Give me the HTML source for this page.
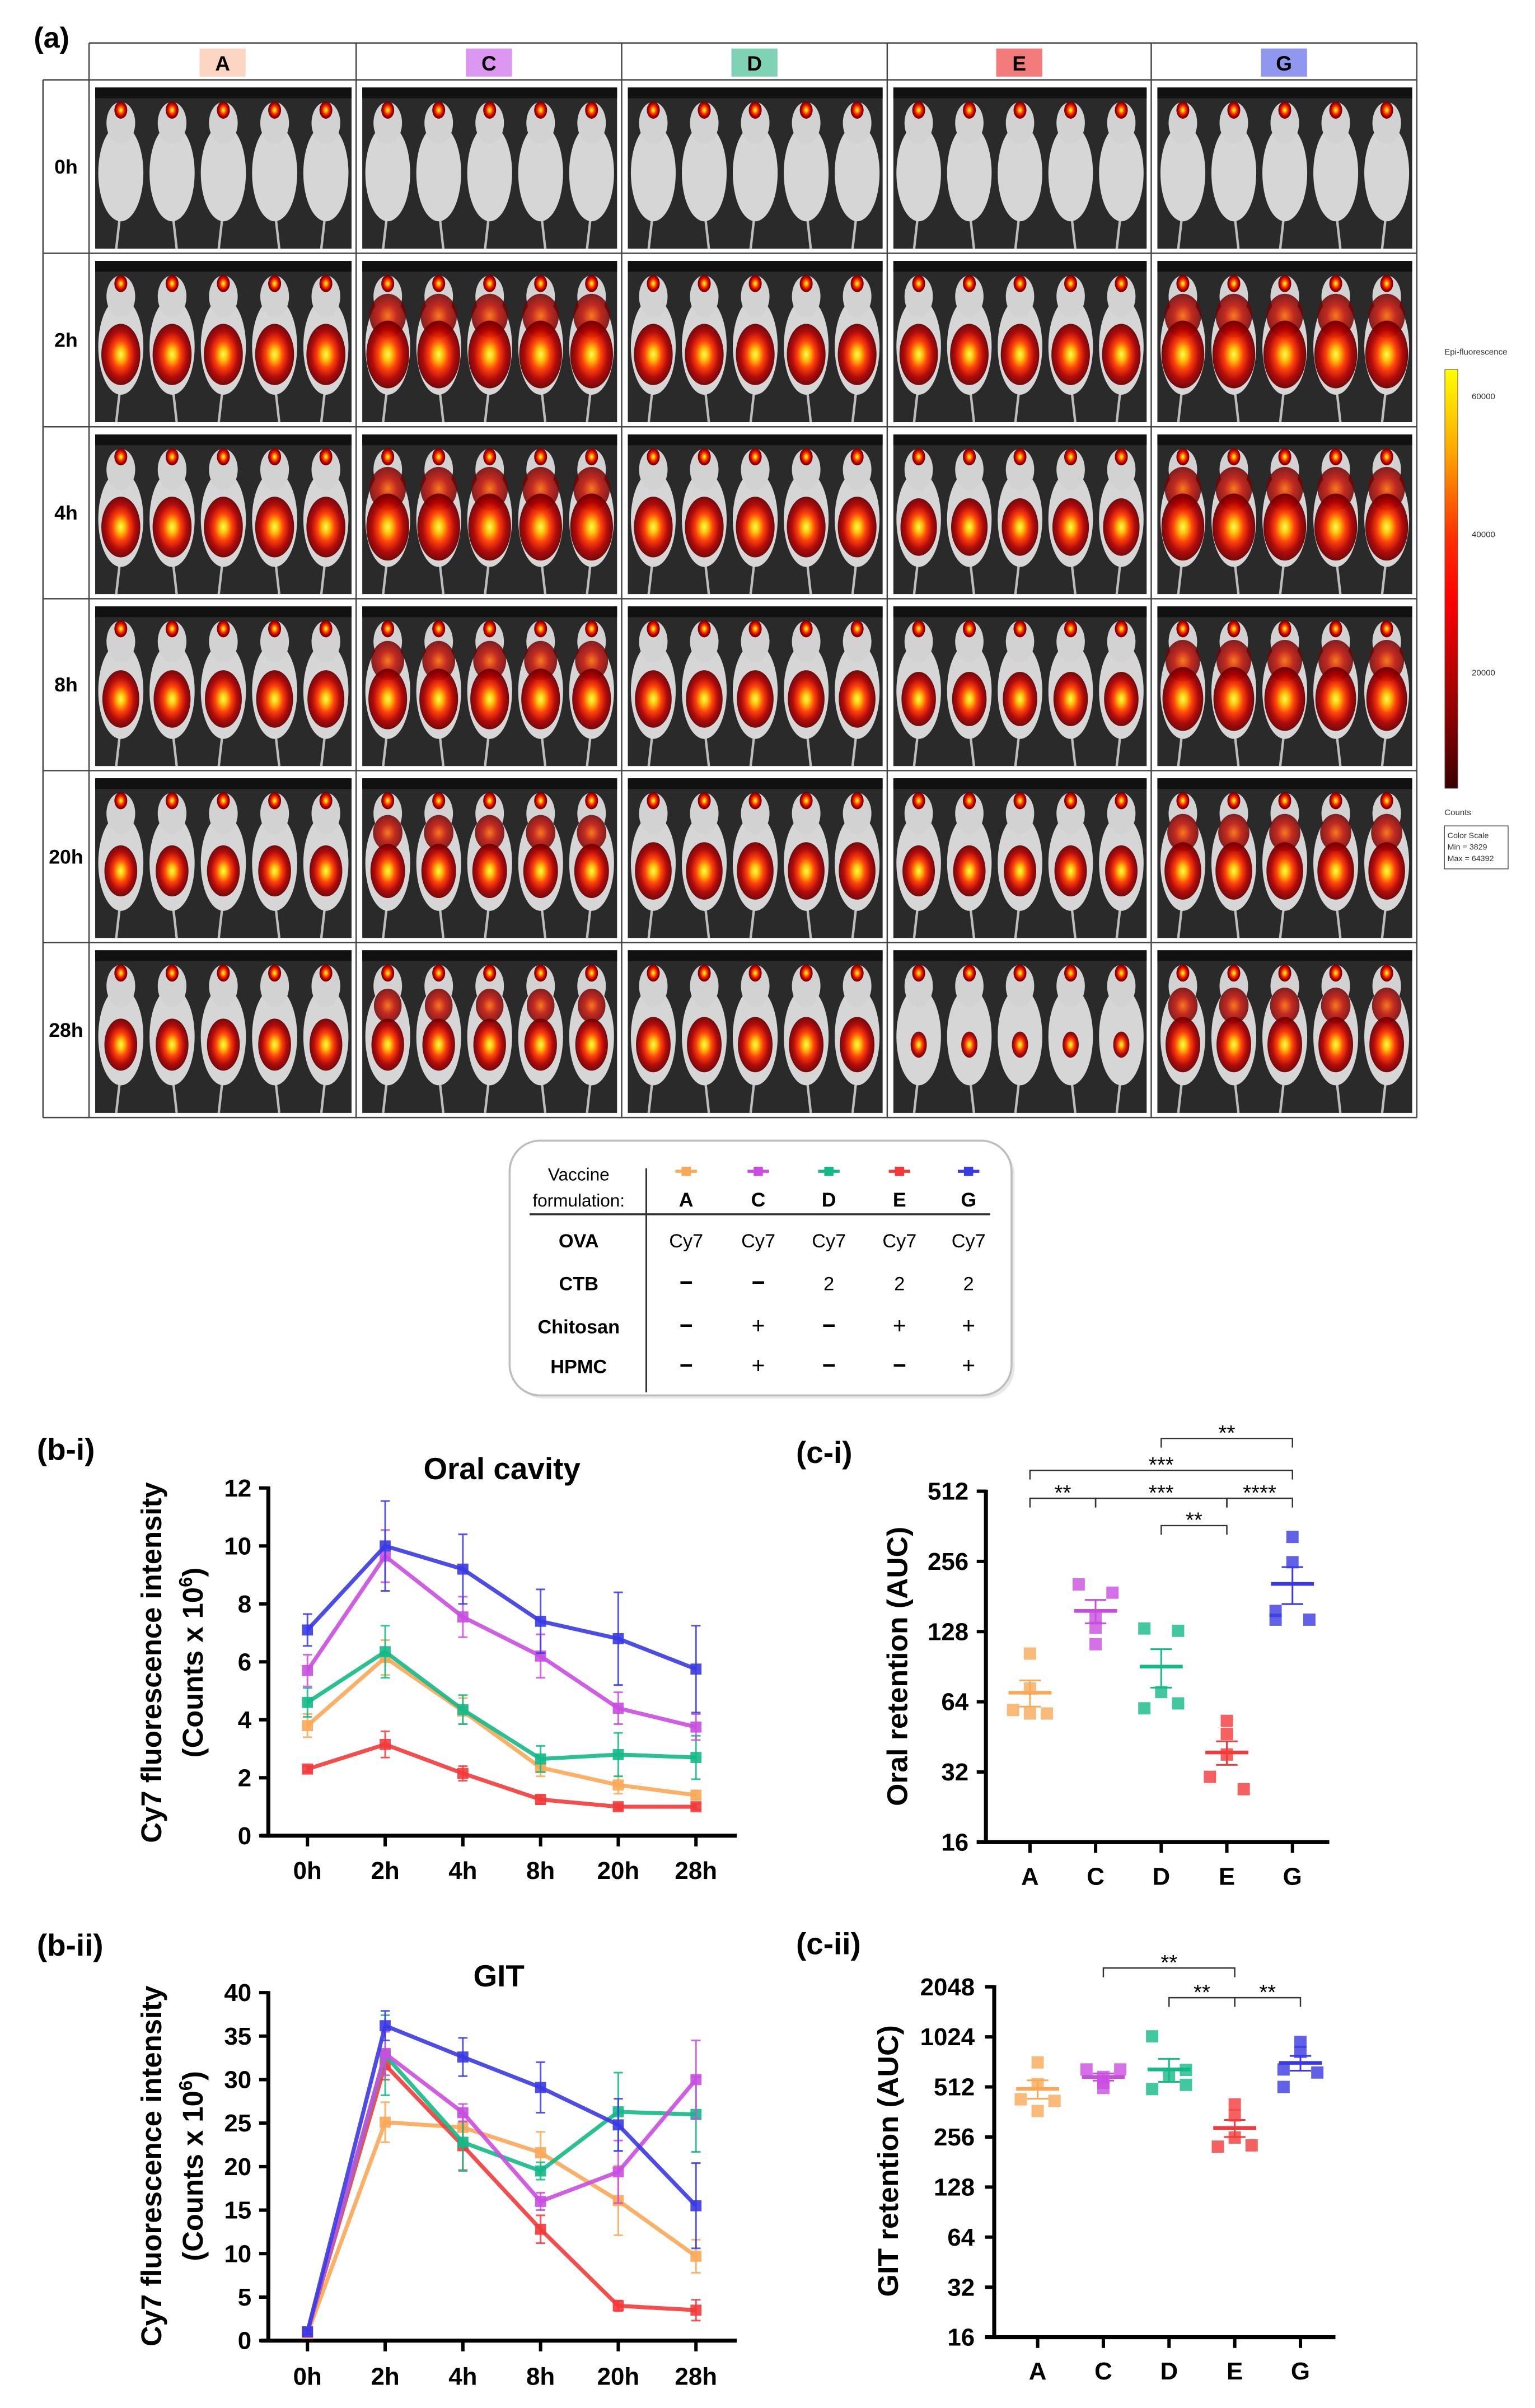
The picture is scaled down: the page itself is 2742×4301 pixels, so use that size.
<!DOCTYPE html>
<html><head><meta charset="utf-8">
<style>
html,body{margin:0;padding:0;background:#fff;}
svg{display:block;font-family:"Liberation Sans",sans-serif;}
</style></head>
<body>
<svg id="fig" xmlns="http://www.w3.org/2000/svg" width="2742" height="4301" viewBox="0 0 1000 1568.6">
<defs>
<radialGradient id="hot" cx="50%" cy="50%" r="50%">
<stop offset="0%" stop-color="#ffff50"/><stop offset="20%" stop-color="#ffc000"/><stop offset="45%" stop-color="#ff3a00"/><stop offset="75%" stop-color="#b00000"/><stop offset="100%" stop-color="#6a0000"/>
</radialGradient>
<radialGradient id="warm" cx="50%" cy="50%" r="50%">
<stop offset="0%" stop-color="#ff6a00"/><stop offset="50%" stop-color="#c00c00"/><stop offset="100%" stop-color="#700000"/>
</radialGradient>
<linearGradient id="cbar" x1="0" y1="0" x2="0" y2="1">
<stop offset="0%" stop-color="#ffff00"/><stop offset="20%" stop-color="#ffa500"/><stop offset="40%" stop-color="#ff3000"/><stop offset="55%" stop-color="#ff0000"/><stop offset="80%" stop-color="#990000"/><stop offset="100%" stop-color="#3a0000"/>
</linearGradient>
</defs>
<text x="22" y="31" font-size="19" font-weight="bold">(a)</text>
<g id="grid"></g>
<g id="colorbar">
<text x="941" y="231" font-size="5.5" fill="#333">Epi-fluorescence</text>
<rect x="941.3" y="240.7" width="8.4" height="272.8" fill="url(#cbar)" stroke="#555" stroke-width="0.4"/>
<text x="958.8" y="260" font-size="5.5" fill="#333">60000</text>
<text x="958.8" y="350" font-size="5.5" fill="#333">40000</text>
<text x="958.8" y="440" font-size="5.5" fill="#333">20000</text>
<text x="941" y="531" font-size="5.5" fill="#333">Counts</text>
<rect x="941" y="538" width="41.5" height="28" fill="#fff" stroke="#444" stroke-width="0.5"/>
<text x="943" y="546" font-size="5.2" fill="#333">Color Scale</text>
<text x="943" y="553.5" font-size="5.2" fill="#333">Min = 3829</text>
<text x="943" y="561" font-size="5.2" fill="#333">Max = 64392</text>
</g>
<g id="legendTable">
<rect x="334" y="745" width="327" height="166" rx="20" fill="#e8e8e8"/>
<rect x="332" y="743" width="327" height="166" rx="20" fill="#fff" stroke="#bdbdbd" stroke-width="1.3"/>
<line x1="421" y1="761" x2="421" y2="907" stroke="#222" stroke-width="1"/>
<line x1="345" y1="791" x2="645" y2="791" stroke="#333" stroke-width="1.3"/>
<text x="377" y="769" font-size="11.5" text-anchor="middle">Vaccine</text>
<text x="377" y="786" font-size="11.5" text-anchor="middle">formulation:</text>
</g>
<g id="charts"></g>
</svg>
<script>
// ---------- Chart data ----------
const groups = ["A","C","D","E","G"];
const groupColors = ["#f9a957","#c94ee0","#14b988","#f23a3a","#3a3ae2"];
const timeLabels = ["0h","2h","4h","8h","20h","28h"];
// Oral cavity (Counts x 10^6)
const oralA = [3.8,6.15,4.3,2.35,1.75,1.4];
const oralC = [5.7,9.65,7.55,6.2,4.4,3.75];
const oralD = [4.6,6.35,4.35,2.65,2.8,2.7];
const oralE = [2.3,3.15,2.15,1.25,1.0,1.0];
const oralG = [7.1,10.0,9.2,7.4,6.8,5.75];
const oralErrA = [0.4,0.6,0.45,0.3,0.3,0.15];
const oralErrC = [0.55,0.9,0.7,0.75,0.55,0.45];
const oralErrD = [0.5,0.9,0.5,0.45,0.75,0.75];
const oralErrE = [0.1,0.45,0.25,0.15,0.1,0.1];
const oralErrG = [0.55,1.55,1.2,1.1,1.6,1.5];
const oralTicks = [0,2,4,6,8,10,12];
// GIT
const gitA = [0.8,25.1,24.5,21.6,16.1,9.7];
const gitC = [1.0,33.0,26.2,16.0,19.4,30.0];
const gitD = [1.0,32.8,22.8,19.5,26.3,26.0];
const gitE = [1.0,31.7,22.4,12.8,4.0,3.5];
const gitG = [1.0,36.2,32.6,29.1,24.8,15.5];
const gitErrA = [0.2,2.3,1.3,2.4,4.0,1.9];
const gitErrC = [0.4,2.5,1.0,1.0,3.6,4.5];
const gitErrD = [0.3,4.6,3.3,1.0,4.5,4.3];
const gitErrE = [0.3,1.7,2.8,1.6,0.6,1.2];
const gitErrG = [0.3,1.7,2.2,2.9,3.0,4.9];
const gitTicks = [0,5,10,15,20,25,30,35,40];
// Oral retention AUC (individual animals)
const oralAucA = [103,73,59,57,57];
const oralAucC = [204,188,146,133,113];
const oralAucD = [132,129,70.5,63,60];
const oralAucE = [53,46.6,38,30.5,27];
const oralAucG = [326,254,157,144,144];
const oralAucMean = [70,157,90.6,38.8,205];
const oralAucSem = [9,18,17,4.5,37];
const oralAucTicks = [16,32,64,128,256,512];
// GIT retention AUC
const gitAucA = [719,532,431,422,367];
const gitAucC = [652,652,588,541,505];
const gitAucD = [1031,648,605,527,497];
const gitAucE = [402,345,254,224,228];
const gitAucG = [955,832,652,625,512];
const gitAucMean = [498,588,652,290,714];
const gitAucSem = [63,29,103,34,73];
const gitAucTicks = [16,32,64,128,256,512,1024,2048];
// significance comparisons
const oralSigFrom = [2,0,0,1,3,2];
const oralSigTo   = [4,4,1,3,4,3];
const oralSigText = ["**","***","**","***","****","**"];
const oralSigLevel= [0,1,2,2,2,3];
const gitSigFrom = [1,2,3];
const gitSigTo   = [3,3,4];
const gitSigText = ["**","**","**"];
const gitSigLevel= [0,1,1];

const NS="http://www.w3.org/2000/svg";
function mk(tag, attrs, parent){
  const e=document.createElementNS(NS,tag);
  for(const k in attrs) e.setAttribute(k,attrs[k]);
  if(parent) parent.appendChild(e);
  return e;
}
const root=document.getElementById('charts');
const B="bold";

// ---------- Panel (a) imaging grid ----------
(function(){
  const g=document.getElementById('grid');
  const colX=[58,232,405,578,750,923], rowY=[52,165,278,390,502,614,728];
  const rows=["0h","2h","4h","8h","20h","28h"];
  const hdrFill=["#fcd6c2","#dc97f0","#80d2b4","#f37b7b","#8f97ee"];
  const intensity=[[0,0,0,0,0],[0.95,1.05,0.95,0.95,1.05],[0.95,1.05,0.95,0.9,1.05],[0.9,0.95,0.9,0.85,1.0],[0.8,0.85,0.9,0.8,0.9],[0.8,0.8,0.85,0.4,0.85]];
  for(let r=0;r<6;r++){
    for(let c=0;c<5;c++){
      const x0=colX[c]+4,y0=rowY[r]+5,w=colX[c+1]-colX[c]-7,h=rowY[r+1]-rowY[r]-8;
      const cell=mk('g',{},g);
      
      
      mk('rect',{x:x0,y:y0,width:w,height:h,fill:'#2a2a2a'},cell);
      mk('rect',{x:x0,y:y0,width:w,height:7,fill:'#111'},cell);
      for(let m=0;m<5;m++){
        const cx=x0+w*(m+0.5)/5, mw=w/5;
        mk('line',{x1:cx,y1:y0+h*0.75,x2:cx+(m%2?3:-3),y2:y0+h,stroke:'#bdbdbd','stroke-width':1.6},cell);
        mk('ellipse',{cx:cx,cy:y0+h*0.53,rx:mw*0.44,ry:h*0.3,fill:'#d6d6d6'},cell);
        mk('ellipse',{cx:cx,cy:y0+h*0.22,rx:mw*0.28,ry:h*0.13,fill:'#d2d2d2'},cell);
        mk('ellipse',{cx:cx,cy:y0+h*0.14,rx:4.2,ry:5.6,fill:'url(#hot)'},cell);
        const k=intensity[r][c];
        if(k>0){
          if(c===1||c===4){
            mk('ellipse',{cx:cx,cy:y0+h*0.34,rx:mw*0.34*k,ry:h*0.13*k,fill:'url(#warm)',opacity:0.85},cell);
          }
          mk('ellipse',{cx:cx,cy:y0+h*0.58,rx:mw*0.4*k,ry:h*0.2*k,fill:'url(#hot)',opacity:0.95},cell);
        }
      }
    }
  }
  const ln=(x1,y1,x2,y2)=>mk('line',{x1,y1,x2,y2,stroke:'#444','stroke-width':0.9},g);
  ln(58,28,923,28);
  for(const x of colX) ln(x,28,x,728);
  ln(28,52,28,728);
  for(const y of rowY) ln(28,y,923,y);
  for(let c=0;c<5;c++){
    const cx=(colX[c]+colX[c+1])/2;
    const hb=mk('rect',{x:cx-15,y:31.6,width:30,height:18.3,fill:hdrFill[c]},g);
    
    
    const ht=mk('text',{x:cx,y:46,'font-size':13.5,'font-weight':B,'text-anchor':'middle'},g);
    ht.textContent=groups[c];
    
    
  }
  for(let r=0;r<6;r++){
    const t=mk('text',{x:43,y:(rowY[r]+rowY[r+1])/2+4.5,'font-size':13,'font-weight':B,'text-anchor':'middle'},g);
    t.textContent=rows[r];
    
    
  }
})();

// ---------- Formulation table ----------
(function(){
  const g=document.getElementById('legendTable');
  const colCx=[447,494,540,586,631];
  const rowLabels=["OVA","CTB","Chitosan","HPMC"];
  const rowYs=[812.5,840.5,868.5,894.5];
  const cells=[["Cy7","Cy7","Cy7","Cy7","Cy7"],["−","−","2","2","2"],["−","+","−","+","+"],["−","+","−","−","+"]];
  for(let i=0;i<5;i++){
    const lg=mk('g',{},g);
    
    
    mk('line',{x1:colCx[i]-7,y1:763,x2:colCx[i]+7,y2:763,stroke:groupColors[i],'stroke-width':2},lg);
    mk('rect',{x:colCx[i]-3,y:760,width:6,height:6,fill:groupColors[i]},lg);
    const t=mk('text',{x:colCx[i],y:786,'font-size':13,'font-weight':B,'text-anchor':'middle'},lg);
    t.textContent=groups[i];
  }
  for(let r=0;r<4;r++){
    const t=mk('text',{x:377,y:rowYs[r],'font-size':12.5,'font-weight':B,'text-anchor':'middle'},g);
    t.textContent=rowLabels[r];
    
    
    for(let c=0;c<5;c++){
      const v=cells[r][c];
      const tt=mk('text',{x:colCx[c],y:rowYs[r],'font-size':v==="Cy7"?12.5:(v==="2"?12.5:15),'font-weight':v==="−"?B:'normal','text-anchor':'middle'},g);
      tt.textContent=v;
    }
  }
})();

// ---------- Line charts ----------
function lineChart(o){
  const g=mk('g',{},root);
  
  
  const xPos=i=>o.x0+i*o.dx;
  const yPos=v=>o.yBase-v*o.perUnit;
  const pl=mk('text',{x:24,y:o.panelY+7,'font-size':20,'font-weight':B},g);
  pl.textContent=o.panel;
  
  
  const tt=mk('text',{x:o.titleX,y:o.titleY+7,'font-size':20,'font-weight':B,'text-anchor':'middle'},g);
  tt.textContent=o.title;
  
  
  const yt=mk('g',{transform:'translate(0,'+o.ytY+') rotate(-90)'},g);
  
  
  mk('text',{x:0,y:o.ytX1+6,'font-size':18.5,'font-weight':B,'text-anchor':'middle',textLength:235,lengthAdjust:'spacingAndGlyphs'},yt).textContent="Cy7 fluorescence intensity";
  const t2=mk('text',{x:0,y:o.ytX2+6,'font-size':18.5,'font-weight':B,'text-anchor':'middle'},yt);
  t2.appendChild(document.createTextNode("(Counts x 10"));
  const sup=mk('tspan',{dy:-7,'font-size':12},t2); sup.textContent="6";
  const cl=mk('tspan',{dy:7},t2); cl.textContent=")";
  const topV=o.ticks[o.ticks.length-1];
  const ya=mk('line',{x1:o.ax,y1:yPos(0)+1.2,x2:o.ax,y2:yPos(topV)-1,stroke:'#000','stroke-width':2.6},g);
  
  
  const xa=mk('line',{x1:o.ax-5,y1:yPos(0),x2:o.axEnd,y2:yPos(0),stroke:'#000','stroke-width':2.6},g);
  
  
  for(const v of o.ticks){
    mk('line',{x1:o.ax-6,y1:yPos(v),x2:o.ax,y2:yPos(v),stroke:'#000','stroke-width':2.2},g);
    const tl=mk('text',{x:o.ax-11,y:yPos(v)+5.5,'font-size':16,'font-weight':B,'text-anchor':'end'},g);
    tl.textContent=v;
    
    
  }
  timeLabels.forEach((lab,i)=>{
    mk('line',{x1:xPos(i),y1:yPos(0),x2:xPos(i),y2:yPos(0)+7,stroke:'#000','stroke-width':2.2},g);
    const tl=mk('text',{x:xPos(i),y:o.xlY+6,'font-size':16,'font-weight':B,'text-anchor':'middle'},g);
    tl.textContent=lab;
    
    
  });
  const order=[0,3,2,1,4];
  for(const si of order){
    const vals=o.series[si], errs=o.errs[si], col=groupColors[si];
    const sg=mk('g',{},g);
    
    
    vals.forEach((v,i)=>{
      const x=xPos(i);
      mk('line',{x1:x,y1:yPos(v-errs[i]),x2:x,y2:yPos(v+errs[i]),stroke:col,'stroke-width':1.1,opacity:0.85},sg);
      mk('line',{x1:x-3,y1:yPos(v-errs[i]),x2:x+3,y2:yPos(v-errs[i]),stroke:col,'stroke-width':1.1,opacity:0.85},sg);
      mk('line',{x1:x-3,y1:yPos(v+errs[i]),x2:x+3,y2:yPos(v+errs[i]),stroke:col,'stroke-width':1.1,opacity:0.85},sg);
    });
    const pts=vals.map((v,i)=>xPos(i)+','+yPos(v)).join(' ');
    const pl2=mk('polyline',{points:pts,fill:'none',stroke:col,'stroke-width':2.6,'stroke-linejoin':'round',opacity:0.9},sg);
    
    
    vals.forEach((v,i)=>{
      const p=mk('rect',{x:xPos(i)-3.6,y:yPos(v)-3.6,width:7.2,height:7.2,fill:col,opacity:0.9},sg);
      
      
    });
  }
}
lineChart({name:'oral-cavity-chart',panel:'(b-i)',panelY:944,title:'Oral cavity',titleX:327,titleY:956.5,
  ytY:1083,ytX1:99,ytX2:126,ax:174.8,axEnd:480,x0:200.3,dx:50.62,yBase:1195.8,perUnit:18.875,xlY:1218,
  ticks:oralTicks,series:[oralA,oralC,oralD,oralE,oralG],errs:[oralErrA,oralErrC,oralErrD,oralErrE,oralErrG]});
lineChart({name:'git-chart',panel:'(b-ii)',panelY:1267,title:'GIT',titleX:325,titleY:1287,
  ytY:1411,ytX1:99,ytX2:126,ax:174.8,axEnd:480,x0:200.3,dx:50.62,yBase:1524.7,perUnit:5.667,xlY:1547.5,
  ticks:gitTicks,series:[gitA,gitC,gitD,gitE,gitG],errs:[gitErrA,gitErrC,gitErrD,gitErrE,gitErrG]});

// ---------- Scatter (AUC) charts ----------
const jitter=[[0,0,-1,1,0],[-1,1,0,0,0],[-1,1,0,1,-1],[0,0,0,-1,1],[0,0,-1,1,-1]];
function aucChart(o){
  const g=mk('g',{},root);
  
  
  const xPos=i=>o.x0+i*o.dx;
  const yPos=v=>o.y16-(Math.log2(v)-4)*o.perUnit;
  const pl=mk('text',{x:518.6,y:o.panelY+7,'font-size':20,'font-weight':B},g);
  pl.textContent=o.panel;
  
  
  const yt=mk('text',{x:0,y:0,'font-size':18.5,'font-weight':'bold','text-anchor':'middle',textLength:o.ytLen,lengthAdjust:'spacingAndGlyphs',transform:'translate('+(o.ytX+6)+','+o.ytY+') rotate(-90)'},g);
  yt.textContent=o.ytitle;
  
  
  const topV=o.ticks[o.ticks.length-1];
  const ya=mk('line',{x1:o.ax,y1:yPos(16)+1.2,x2:o.ax,y2:yPos(topV)-1,stroke:'#000','stroke-width':2.6},g);
  
  
  const xa=mk('line',{x1:o.ax-6,y1:yPos(16),x2:o.axEnd,y2:yPos(16),stroke:'#000','stroke-width':2.6},g);
  
  
  for(const v of o.ticks){
    mk('line',{x1:o.ax-6,y1:yPos(v),x2:o.ax,y2:yPos(v),stroke:'#000','stroke-width':2.2},g);
    const tl=mk('text',{x:o.tlx,y:yPos(v)+5.5,'font-size':16,'font-weight':B,'text-anchor':'end'},g);
    tl.textContent=v;
    
    
  }
  groups.forEach((lab,i)=>{
    mk('line',{x1:xPos(i),y1:yPos(16),x2:xPos(i),y2:yPos(16)+7,stroke:'#000','stroke-width':2.2},g);
    const tl=mk('text',{x:xPos(i),y:o.xlY+6,'font-size':16,'font-weight':B,'text-anchor':'middle'},g);
    tl.textContent=lab;
    
    
  });
  o.points.forEach((pts,gi)=>{
    const col=groupColors[gi], x=xPos(gi);
    const sg=mk('g',{},g);
    
    
    pts.forEach((v,pi)=>{
      const px=x+jitter[gi][pi]*o.jit;
      const r=mk('rect',{x:px-4,y:yPos(v)-4,width:8,height:8,fill:col,opacity:0.8},sg);
      
      
    });
    const m=o.mean[gi], s=o.sem[gi];
    mk('line',{x1:x,y1:yPos(m-s),x2:x,y2:yPos(m+s),stroke:col,'stroke-width':1.1},sg);
    mk('line',{x1:x-7,y1:yPos(m-s),x2:x+7,y2:yPos(m-s),stroke:col,'stroke-width':1.1},sg);
    mk('line',{x1:x-7,y1:yPos(m+s),x2:x+7,y2:yPos(m+s),stroke:col,'stroke-width':1.1},sg);
    const ml=mk('line',{x1:x-14,y1:yPos(m),x2:x+14,y2:yPos(m),stroke:col,'stroke-width':2.4},sg);
    
    
  });
  o.sigFrom.forEach((f,k)=>{
    const y=o.sigY[o.sigLevel[k]];
    const x1=xPos(f), x2=xPos(o.sigTo[k]);
    const bg=mk('g',{},g);
    
    
    mk('path',{d:'M'+x1+','+(y+6)+' V'+y+' H'+x2+' V'+(y+6),fill:'none',stroke:'#333','stroke-width':0.9},bg);
    const st=mk('text',{x:(x1+x2)/2,y:y+1,'font-size':14,'text-anchor':'middle'},bg);
    st.textContent=o.sigText[k];
  });
}
aucChart({name:'oral-retention-chart',panel:'(c-i)',panelY:946,ytitle:'Oral retention (AUC)',ytX:585,ytY:1085.5,ytLen:182,
  ax:642.3,axEnd:866,tlx:631,x0:671,dx:42.75,y16:1200,perUnit:45.72,xlY:1221.7,jit:11,ticks:oralAucTicks,
  points:[oralAucA,oralAucC,oralAucD,oralAucE,oralAucG],mean:oralAucMean,sem:oralAucSem,
  sigFrom:oralSigFrom,sigTo:oralSigTo,sigText:oralSigText,sigLevel:oralSigLevel,sigY:[937,957.8,976,993.8]});
aucChart({name:'git-retention-chart',panel:'(c-ii)',panelY:1266,ytitle:'GIT retention (AUC)',ytX:579,ytY:1407.7,ytLen:177,
  ax:647.7,axEnd:870,tlx:635,x0:676,dx:42.8,y16:1522.5,perUnit:32.61,xlY:1544,jit:11,ticks:gitAucTicks,
  points:[gitAucA,gitAucC,gitAucD,gitAucE,gitAucG],mean:gitAucMean,sem:gitAucSem,
  sigFrom:gitSigFrom,sigTo:gitSigTo,sigText:gitSigText,sigLevel:gitSigLevel,sigY:[1282,1301.3]});
</script>
</body></html>
